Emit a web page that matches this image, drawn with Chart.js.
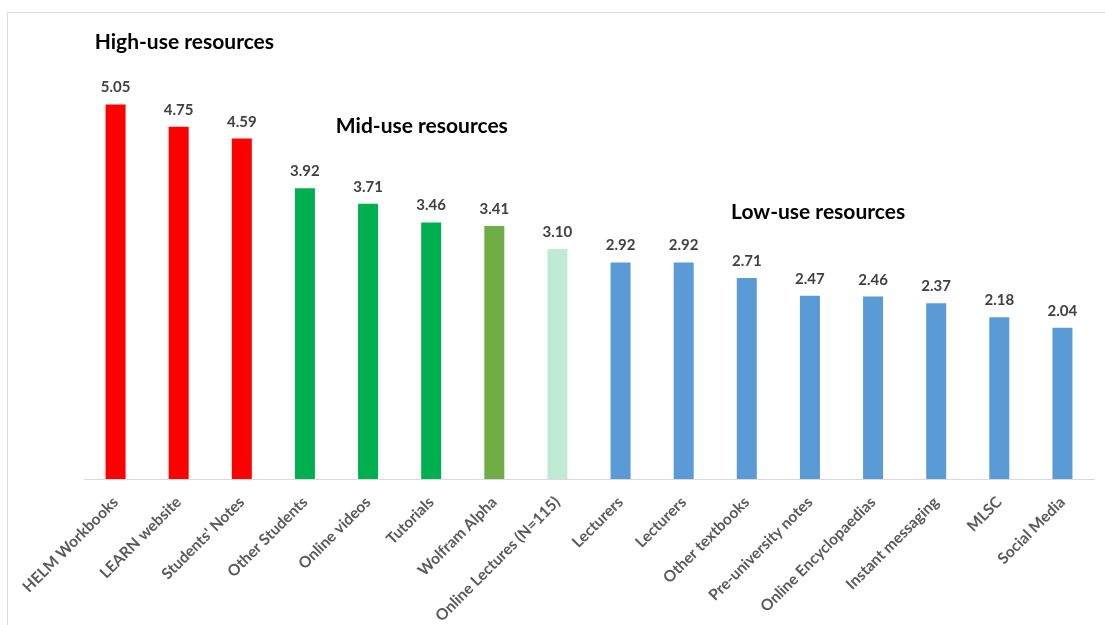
<!DOCTYPE html>
<html>
<head>
<meta charset="utf-8">
<script src="https://cdn.jsdelivr.net/npm/chart.js@4/dist/chart.umd.min.js"></script>
<style>
  html, body { margin: 0; padding: 0; background: #fff; }
  #wrap { position: relative; width: 1105px; height: 625px; }
  #frame {
    position: absolute; left: 7px; top: 12px; right: 0; bottom: 0;
    border-top: 1px solid #d9d9d9; border-left: 1px solid #d9d9d9;
  }
  #chart { position: absolute; left: 0; top: 0; }
</style>
</head>
<body>
<div id="wrap">
  <div id="frame"></div>
  <canvas id="chart" width="1105" height="625"></canvas>
</div>
<script>
// ======================================
// Mean usage score per resource
// ======================================
const resources = [
  "HELM Workbooks", "LEARN website", "Students' Notes", "Other Students",
  "Online videos", "Tutorials", "Wolfram Alpha", "Online Lectures (N=115)",
  "Lecturers", "Lecturers", "Other textbooks", "Pre-university notes",
  "Online Encyclopaedias", "Instant messaging", "MLSC", "Social Media"
];
const meanScores = [5.05, 4.75, 4.59, 3.92, 3.71, 3.46, 3.41, 3.10,
                    2.92, 2.92, 2.71, 2.47, 2.46, 2.37, 2.18, 2.04];
// which band each resource sits in
const usageBand = ["high", "high", "high", "mid", "mid", "mid", "alpha", "online",
                   "low", "low", "low", "low", "low", "low", "low", "low"];
const bandTitles = ["High-use resources", "Mid-use resources", "Low-use resources"];

const bandColors = {
  high: "#ff0000",
  mid: "#00b050",
  alpha: "#70ad47",
  online: "#bfead3",
  low: "#5b9bd5"
};

// where each band title sits: x in category units (left edge), y in score units (baseline)
const titleAnchors = [
  { x: -0.33, y: 5.80 },
  { x: 3.49, y: 4.66 },
  { x: 9.75, y: 3.51 }
];

const FONT = "Lato, 'Open Sans', sans-serif";

// value labels above each bar + band titles
const barLabels = {
  id: "barLabels",
  afterDatasetsDraw(chart) {
    const ctx = chart.ctx;
    const meta = chart.getDatasetMeta(0);
    ctx.save();
    ctx.font = "bold 15px " + FONT;
    ctx.fillStyle = "#404040";
    ctx.textAlign = "center";
    ctx.textBaseline = "alphabetic";
    meta.data.forEach((bar, i) => {
      ctx.fillText(meanScores[i].toFixed(2), bar.x, bar.y - 12);
    });

    const xs = chart.scales.x, ys = chart.scales.y;
    ctx.font = "bold 21px " + FONT;
    ctx.fillStyle = "#000";
    ctx.textAlign = "left";
    bandTitles.forEach((t, i) => {
      const a = titleAnchors[i];
      const px = xs.getPixelForValue(0) + a.x * (xs.getPixelForValue(1) - xs.getPixelForValue(0));
      ctx.fillText(t, px, ys.getPixelForValue(a.y));
    });
    ctx.restore();
  }
};

new Chart(document.getElementById("chart"), {
  type: "bar",
  data: {
    labels: resources,
    datasets: [{
      data: meanScores,
      backgroundColor: usageBand.map(b => bandColors[b]),
      borderWidth: 0,
      barPercentage: 0.317,
      categoryPercentage: 1
    }]
  },
  options: {
    responsive: false,
    animation: false,
    events: [],
    layout: { padding: { left: 84, right: 11, top: 34, bottom: 0 } },
    plugins: {
      legend: { display: false },
      tooltip: { enabled: false }
    },
    scales: {
      x: {
        grid: { display: false, drawTicks: false },
        border: { color: "#d9d9d9", width: 1 },
        ticks: {
          color: "#595959",
          font: { family: FONT, size: 15.5, weight: "bold" },
          minRotation: 45,
          maxRotation: 45,
          autoSkip: false,
          padding: 14
        },
        afterFit: s => { s.height = 146; }
      },
      y: { display: false, min: 0, max: 6 }
    }
  },
  plugins: [barLabels]
});
</script>
</body>
</html>
